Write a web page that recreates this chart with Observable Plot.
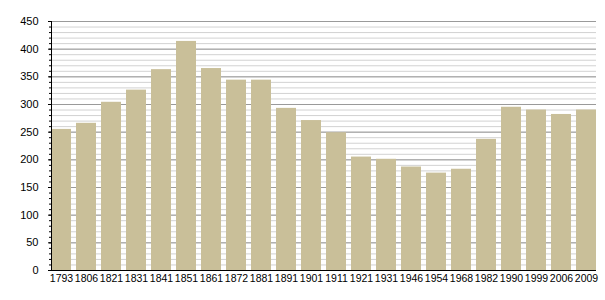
<!DOCTYPE html>
<html>
<head>
<meta charset="utf-8">
<script src="https://cdn.jsdelivr.net/npm/d3@7"></script>
<script src="https://cdn.jsdelivr.net/npm/@observablehq/plot@0.6"></script>
<style>
  html, body { margin: 0; padding: 0; background: white; }
</style>
</head>
<body>
<div id="chart"></div>
<script>
const years = ["1793","1806","1821","1831","1841","1851","1861","1872","1881","1891","1901","1911","1921","1931","1946","1954","1968","1982","1990","1999","2006","2009"];
const population = [255,266,304,326,363,414,365,344,344,293,271,249,205,201,187,176,183,237,295,290,282,290];
const majorTicks = [0,50,100,150,200,250,300,350,400,450];
const minorTicks = [0,10,20,30,40,50,60,70,80,90,100,110,120,130,140,150,160,170,180,190,200,210,220,230,240,250,260,270,280,290,300,310,320,330,340,350,360,370,380,390,400,410,420,430,440,450];

const data = years.map((y, i) => ({year: y, pop: population[i]}));

const chart = Plot.plot({
  width: 605,
  height: 300,
  marginLeft: 51,
  marginRight: 9,
  marginTop: 21,
  marginBottom: 30,
  style: {fontFamily: "'Liberation Sans', Arial, sans-serif", color: "black", background: "white"},
  x: {domain: years, paddingInner: 0.2, paddingOuter: 0, label: null},
  y: {domain: [0, 450], label: null},
  marks: [
    Plot.ruleY(minorTicks, {stroke: "#d2d2d2", strokeOpacity: 1}),
    Plot.ruleY(majorTicks, {stroke: "#9a9a9a", strokeOpacity: 1}),
    Plot.barY(data, {x: "year", y: "pop", fill: "#c9bf99"}),
    Plot.axisX({tickSize: 0, tickPadding: 4, fontSize: 10.5, label: null}),
    Plot.axisY({ticks: minorTicks, tickSize: 2, text: null, label: null}),
    Plot.axisY({ticks: majorTicks, tickSize: 3, tickPadding: 10, fontSize: 11, label: null}),
    Plot.ruleY([0], {stroke: "black", strokeOpacity: 1}),
    Plot.frame({anchor: "left", stroke: "black", strokeOpacity: 1})
  ]
});
document.getElementById("chart").appendChild(chart);
</script>
</body>
</html>
